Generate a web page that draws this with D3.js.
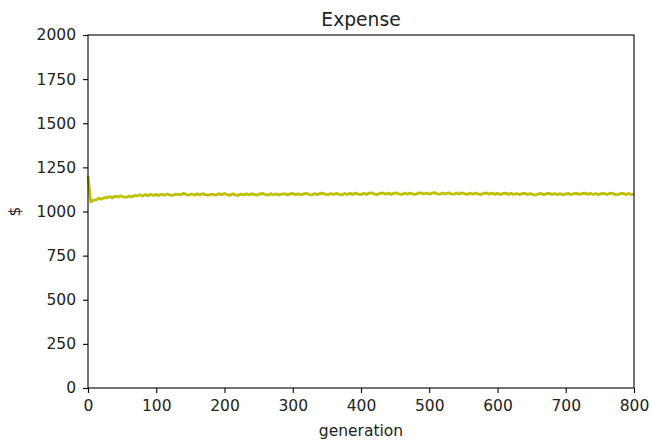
<!DOCTYPE html>
<html>
<head>
<meta charset="utf-8">
<script src="https://cdn.jsdelivr.net/npm/d3@7"></script>
<style>
  html, body { margin: 0; padding: 0; background: #fff; }
  svg { display: block; }
  text { font-family: "DejaVu Sans", sans-serif; fill: #222; }
</style>
</head>
<body>
<div id="chart"></div>
<script>
// Mean expense per generation, sampled every 4 generations (0..800)
const generationStep = 4;
const expense = [
  1200, 1055, 1064, 1066, 1075, 1070, 1079, 1078, 1085, 1077,
  1087, 1082, 1089, 1083, 1080, 1088, 1082, 1090, 1089, 1095,
  1088, 1096, 1090, 1098, 1091, 1097, 1090, 1098, 1092, 1099,
  1093, 1091, 1099, 1097, 1094, 1103, 1096, 1093, 1099, 1092,
  1100, 1094, 1101, 1095, 1092, 1098, 1096, 1093, 1101, 1095,
  1102, 1095, 1092, 1100, 1094, 1091, 1099, 1093, 1100, 1094,
  1101, 1095, 1093, 1100, 1102, 1095, 1093, 1101, 1094, 1100,
  1093, 1099, 1101, 1094, 1100, 1102, 1095, 1101, 1094, 1100,
  1103, 1096, 1094, 1101, 1095, 1102, 1104, 1097, 1095, 1102,
  1096, 1103, 1097, 1094, 1102, 1096, 1103, 1097, 1104, 1098,
  1095, 1103, 1097, 1104, 1106, 1098, 1096, 1103, 1105, 1098,
  1104, 1097, 1103, 1106, 1099, 1097, 1104, 1098, 1105, 1099,
  1097, 1104, 1106, 1099, 1105, 1098, 1104, 1107, 1100, 1098,
  1105, 1099, 1106, 1100, 1098, 1105, 1099, 1106, 1100, 1097,
  1104, 1098, 1105, 1099, 1096, 1103, 1105, 1098, 1104, 1097,
  1103, 1096, 1102, 1104, 1097, 1103, 1096, 1102, 1095, 1101,
  1103, 1096, 1102, 1095, 1093, 1100, 1102, 1095, 1101, 1103,
  1096, 1102, 1095, 1101, 1094, 1100, 1102, 1095, 1101, 1103,
  1096, 1102, 1104, 1097, 1103, 1096, 1102, 1095, 1101, 1103,
  1096, 1102, 1104, 1097, 1095, 1101, 1103, 1096, 1102, 1096,
  1098
];
const generations = expense.map((_, i) => i * generationStep);

const xTicks = [0, 100, 200, 300, 400, 500, 600, 700, 800];
const yTicks = [0, 250, 500, 750, 1000, 1250, 1500, 1750, 2000];

const titleText = "Expense";
const xLabel = "generation";
const yLabel = "$";

const width = 651, height = 442;
const margin = { top: 35, right: 17, bottom: 54, left: 88 };

const svg = d3.select("#chart").append("svg")
  .attr("width", width).attr("height", height);

const x = d3.scaleLinear().domain([0, 800]).range([margin.left, width - margin.right]);
const y = d3.scaleLinear().domain([0, 2000]).range([height - margin.bottom, margin.top]);

// Data line
const line = d3.line()
  .x((d, i) => x(generations[i]))
  .y(d => y(d));

svg.append("path")
  .datum(expense)
  .attr("fill", "none")
  .attr("stroke", "#bfbf00")
  .attr("stroke-width", 2.8)
  .attr("stroke-linejoin", "round")
  .attr("d", line);

// Axes
const xAxis = d3.axisBottom(x).tickValues(xTicks).tickSize(5).tickPadding(7).tickFormat(d3.format("d"));
const yAxis = d3.axisLeft(y).tickValues(yTicks).tickSize(5).tickPadding(7).tickFormat(d3.format("d"));

const gx = svg.append("g")
  .attr("transform", `translate(0,${height - margin.bottom})`)
  .call(xAxis);
const gy = svg.append("g")
  .attr("transform", `translate(${margin.left},0)`)
  .call(yAxis);

[gx, gy].forEach(g => {
  g.select(".domain").remove();
  g.selectAll(".tick line").attr("stroke", "#000").attr("stroke-width", 1.1);
  g.selectAll(".tick text")
    .attr("font-family", "DejaVu Sans, sans-serif")
    .attr("font-size", 15.5)
    .attr("fill", "#222");
});

// Frame
svg.append("rect")
  .attr("x", margin.left)
  .attr("y", margin.top)
  .attr("width", width - margin.left - margin.right)
  .attr("height", height - margin.top - margin.bottom)
  .attr("fill", "none")
  .attr("stroke", "#000")
  .attr("stroke-width", 1.1);

// Labels
svg.append("text")
  .attr("x", (x.range()[0] + x.range()[1]) / 2)
  .attr("y", 25.5)
  .attr("text-anchor", "middle")
  .attr("font-size", 18.7)
  .text(titleText);

svg.append("text")
  .attr("x", (x.range()[0] + x.range()[1]) / 2)
  .attr("y", 436)
  .attr("text-anchor", "middle")
  .attr("font-size", 15.5)
  .text(xLabel);

svg.append("text")
  .attr("transform", `translate(20,${(y.range()[0] + y.range()[1]) / 2}) rotate(-90)`)
  .attr("text-anchor", "middle")
  .attr("font-size", 15.5)
  .text(yLabel);
</script>
</body>
</html>
